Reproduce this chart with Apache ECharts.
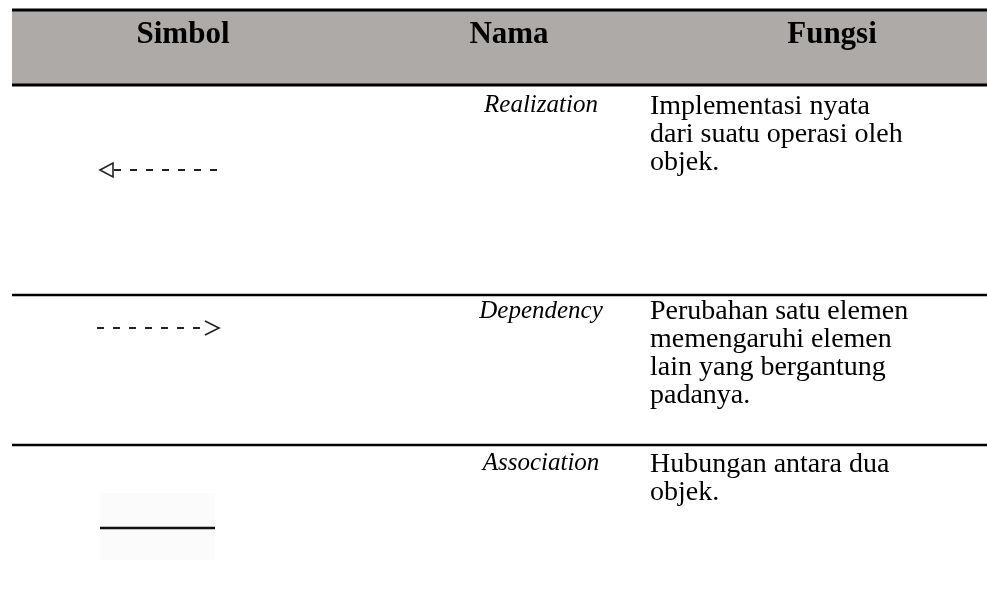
<!DOCTYPE html>
<html>
<head>
<meta charset="utf-8">
<script src="https://cdn.jsdelivr.net/npm/echarts@6/dist/echarts.min.js"></script>
<style>html,body{margin:0;padding:0;background:#fff}#c{width:987px;height:608px}</style>
</head>
<body>
<div id="c"></div>
<script>
const headers = ['Simbol', 'Nama', 'Fungsi'];
const names = ['Realization', 'Dependency', 'Association'];
const functions = [
  ['Implementasi nyata', 'dari suatu operasi oleh', 'objek.'],
  ['Perubahan satu elemen', 'memengaruhi elemen', 'lain yang bergantung', 'padanya.'],
  ['Hubungan antara dua', 'objek.']
];
const symbols = ['realization', 'dependency', 'association'];

const chart = echarts.init(document.getElementById('c'), null, {renderer: 'canvas'});
const F = '"Liberation Serif", "Times New Roman", serif';
const L = 12, R = 987;
const headerTop = 11, headerBottom = 84;
const rowTops = [84, 295, 445];
const nameY = [105, 311, 463];
const textY = [107, 312, 465];
const symY = [170, 328, 528];
const colHeadX = [183, 509, 832];
const nameX = 541, funcX = 650;
const lineGap = 28;

const g = [];
g.push({type: 'rect', shape: {x: L, y: headerTop, width: R - L, height: headerBottom - headerTop}, style: {fill: '#aeaaa8'}});
g.push({type: 'line', shape: {x1: L, y1: 10, x2: R, y2: 10}, style: {stroke: '#000', lineWidth: 3}});
g.push({type: 'line', shape: {x1: L, y1: headerBottom + 1, x2: R, y2: headerBottom + 1}, style: {stroke: '#000', lineWidth: 3}});
headers.forEach((h, i) => {
  g.push({type: 'text', x: colHeadX[i], y: 35, style: {text: h, font: 'bold 31px ' + F, fill: '#000', align: 'center', verticalAlign: 'middle'}});
});
rowTops.slice(1).forEach(y => {
  g.push({type: 'line', shape: {x1: L, y1: y, x2: R, y2: y}, style: {stroke: '#000', lineWidth: 2.5}});
});
names.forEach((n, i) => {
  g.push({type: 'text', x: nameX, y: nameY[i], style: {text: n, font: 'italic 25px ' + F, fill: '#000', align: 'center', verticalAlign: 'middle'}});
  functions[i].forEach((t, j) => {
    g.push({type: 'text', x: funcX, y: textY[i] + j * lineGap, style: {text: t, font: '28px ' + F, fill: '#000', align: 'left', verticalAlign: 'middle'}});
  });
  const sy = symY[i];
  if (symbols[i] === 'realization') {
    g.push({type: 'polygon', shape: {points: [[100, sy], [113, sy - 7], [113, sy + 7]]}, style: {fill: 'none', stroke: '#222', lineWidth: 1.6}});
    g.push({type: 'line', shape: {x1: 114, y1: sy, x2: 223, y2: sy}, style: {stroke: '#222', lineWidth: 2, lineDash: [7, 9]}});
  } else if (symbols[i] === 'dependency') {
    g.push({type: 'line', shape: {x1: 97, y1: sy, x2: 206, y2: sy}, style: {stroke: '#222', lineWidth: 2, lineDash: [7, 9]}});
    g.push({type: 'polyline', shape: {points: [[205, sy - 7], [219, sy], [205, sy + 7]]}, style: {fill: 'none', stroke: '#222', lineWidth: 1.6}});
  } else {
    g.push({type: 'rect', shape: {x: 100, y: 493, width: 115, height: 67}, style: {fill: '#fbfbfb'}});
    g.push({type: 'line', shape: {x1: 100, y1: sy, x2: 215, y2: sy}, style: {stroke: '#111', lineWidth: 2.5}});
  }
});

chart.setOption({animation: false, graphic: {elements: g}});
</script>
</body>
</html>
